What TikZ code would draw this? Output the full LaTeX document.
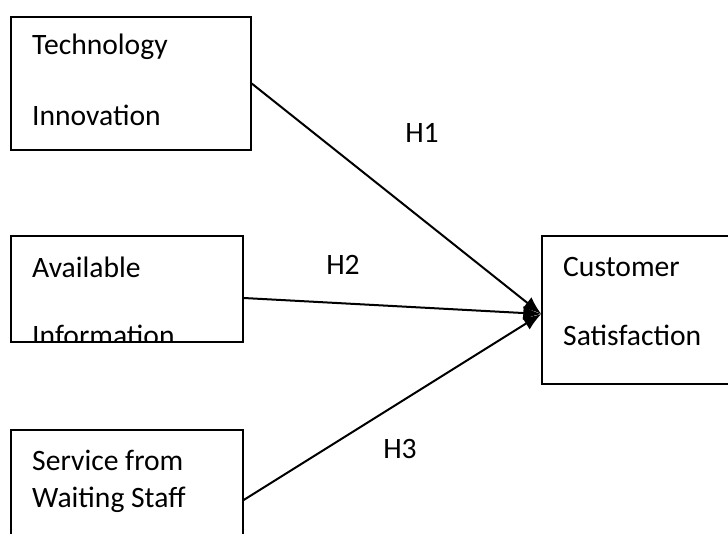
\documentclass[tikz,border=0pt]{standalone}
\usepackage{fontspec}
\setmainfont{Carlito}
\usetikzlibrary{arrows.meta,positioning}

\tikzset{
  box/.style={draw, line width=1.4pt, rectangle, inner sep=0pt},
  lbl/.style={anchor=west, inner sep=0pt, font=\fontsize{29.6}{35}\selectfont},
  hyp/.style={inner sep=0pt, font=\fontsize{29.6}{35}\selectfont},
  link/.style={line width=2pt, -{Latex[length=18pt,width=14pt]}}
}

\begin{document}
\begin{tikzpicture}[x=1pt,y=-1pt]
    \useasboundingbox (0,0) rectangle (728,534);
    \clip (0,0) rectangle (728,534);

    % the three factors on the left
    \node[box, minimum width=240pt, minimum height=133pt] (tech) at (131,83.5) {};
    \node[box, minimum width=232pt, minimum height=106pt] (avail) at (127,289) {};
    \node[box, minimum width=232pt, minimum height=130pt] (serv) at (127,495) {};

    % outcome box on the right
    \node[box, minimum width=198pt, minimum height=148pt] (sat) at (641,310) {};

    % box texts
    \node[lbl] (techA) at (32,47) {Technology};
    \node[lbl] (techB) at (32,115) {Innovation};
    \node[lbl] (availA) at (32,267) {Available};
    \begin{scope}
        \clip (avail.north west) rectangle (avail.south east);
        \node[lbl] (availB) at (32,335) {Information};
    \end{scope}
    \node[lbl] (servA) at (32,460) {Service from};
    \node[lbl] (servB) at (32,500) {Waiting Staff};
    \node[lbl] (satA) at (563,267) {Customer};
    \node[lbl] (satB) at (563,335) {Satisfaction};

    % hypotheses
    \coordinate (target) at ([yshift=-4pt]sat.west);
    \draw[link] (tech.east) -- (target);
    \draw[link] ([yshift=-9pt]avail.east) -- (target);
    \draw[link] ([yshift=-5pt]serv.east) -- (target);

    \node[hyp] (h1) at (422,133) {H1};
    \node[hyp] (h2) at (343,265) {H2};
    \node[hyp] (h3) at (400,449) {H3};
\end{tikzpicture}
\end{document}
